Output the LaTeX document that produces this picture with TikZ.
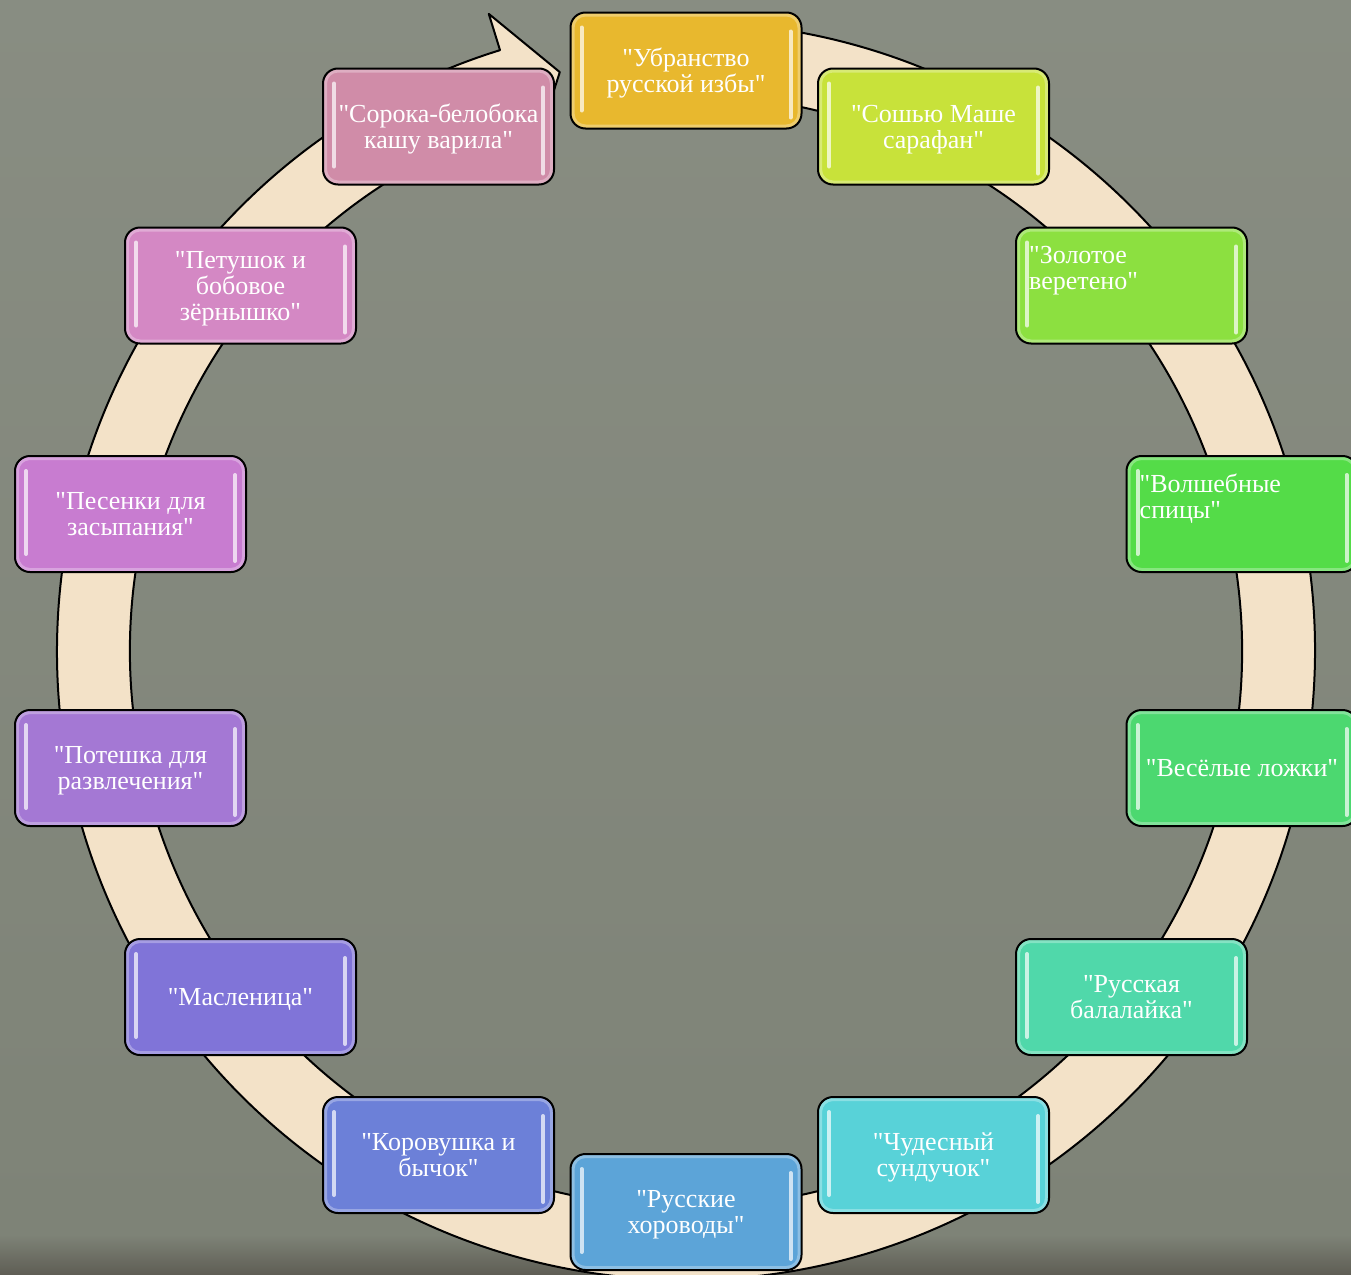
\documentclass[tikz,border=0pt]{standalone}
\usepackage{fontspec}
\setmainfont{Liberation Serif}[Ligatures=TeXOff]
\definecolor{bgc}{HTML}{7E8377}
\definecolor{bgdark}{HTML}{5F5E55}
\definecolor{bandc}{HTML}{F3E2C8}
\definecolor{c1}{HTML}{E8B82E}
\definecolor{c2}{HTML}{C8E23A}
\definecolor{c3}{HTML}{8CE040}
\definecolor{c4}{HTML}{54DC48}
\definecolor{c5}{HTML}{4CD870}
\definecolor{c6}{HTML}{50D8AA}
\definecolor{c7}{HTML}{58D2D8}
\definecolor{c8}{HTML}{5CA4D8}
\definecolor{c9}{HTML}{6C80D8}
\definecolor{c10}{HTML}{8074D8}
\definecolor{c11}{HTML}{A478D4}
\definecolor{c12}{HTML}{C87CD0}
\definecolor{c13}{HTML}{D488C4}
\definecolor{c14}{HTML}{D08CA8}
\tikzset{
  boxfont/.style={font=\fontsize{26}{26}\selectfont},
  box/.style={draw=black, line width=2pt, rounded corners=15pt,
    minimum width=231pt, minimum height=116pt, inner sep=0pt,
    text=white, boxfont, align=center, fill=#1, text depth=0pt,
    path picture={
      \draw[white, opacity=0.30, line width=4pt, rounded corners=13pt]
        ([shift={(2pt,-2pt)}]path picture bounding box.north west) rectangle
        ([shift={(-2pt,2pt)}]path picture bounding box.south east);
      \draw[white, opacity=0.7, line width=4pt, line cap=round]
        ([shift={(11pt,-15pt)}]path picture bounding box.north west) --
        ([shift={(11pt,18pt)}]path picture bounding box.south west);
      \draw[white, opacity=0.7, line width=4pt, line cap=round]
        ([shift={(-11pt,-19pt)}]path picture bounding box.north east) --
        ([shift={(-11pt,11pt)}]path picture bounding box.south east);
    }},
  lbl/.style={text=white, boxfont, align=left, inner sep=0pt},
  bandstyle/.style={draw=black, line width=2pt, fill=bandc, line join=round}
}
\begin{document}
\begin{tikzpicture}[x=1pt,y=1pt]
\useasboundingbox (0,0) rectangle (1351,-1274);
\clip (0,0) rectangle (1351,-1274);
% background
\fill[top color=bgc!92!white, bottom color=bgc] (0,0) rectangle (1351,-1235);
\fill[top color=bgc, bottom color=bgdark] (0,-1235) rectangle (1351,-1274);
% circular arrow band
\begin{scope}[shift={(686,-651)}]
\draw[bandstyle] (85:629) arc[start angle=85, end angle=-252.8, radius=629]
  -- (-252.8:667) -- (-257.7:592.5) -- (-252.8:518) -- (-252.8:556)
  arc[start angle=-252.8, end angle=85, radius=556] -- cycle;
\end{scope}
% boxes
\node[box=c1]  (b1)  at (686,-70.5)    {"Убранство\\русской избы"};
\node[box=c2]  (b2)  at (933.5,-126.5) {"Сошью Маше\\сарафан"};
\node[box=c3]  (b3)  at (1131.5,-285.5) {};
\node[box=c4]  (b4)  at (1242,-514)    {};
\node[box=c5]  (b5)  at (1242,-768)    {"Весёлые ложки"};
\node[box=c6]  (b6)  at (1131.5,-997)  {"Русская\\балалайка"};
\node[box=c7]  (b7)  at (933.5,-1155)  {"Чудесный\\сундучок"};
\node[box=c8]  (b8)  at (686,-1212)    {"Русские\\хороводы"};
\node[box=c9]  (b9)  at (438.5,-1155)  {"Коровушка и\\бычок"};
\node[box=c10] (b10) at (240.5,-997)   {"Масленица"};
\node[box=c11] (b11) at (130.5,-768)   {"Потешка для\\развлечения"};
\node[box=c12] (b12) at (130.5,-514)   {"Песенки для\\засыпания"};
\node[box=c13] (b13) at (240.5,-285.5) {"Петушок и\\бобовое\\зёрнышко"};
\node[box=c14] (b14) at (438.5,-126.5) {"Сорока-белобока\\кашу варила"};
% top-left aligned texts
\node[lbl, anchor=north west] (t3) at ([shift={(14pt,-20pt)}]b3.north west) {"Золотое\\веретено"};
\node[lbl, anchor=north west] (t4) at ([shift={(14pt,-19pt)}]b4.north west) {"Волшебные\\спицы"};
\end{tikzpicture}
\end{document}
